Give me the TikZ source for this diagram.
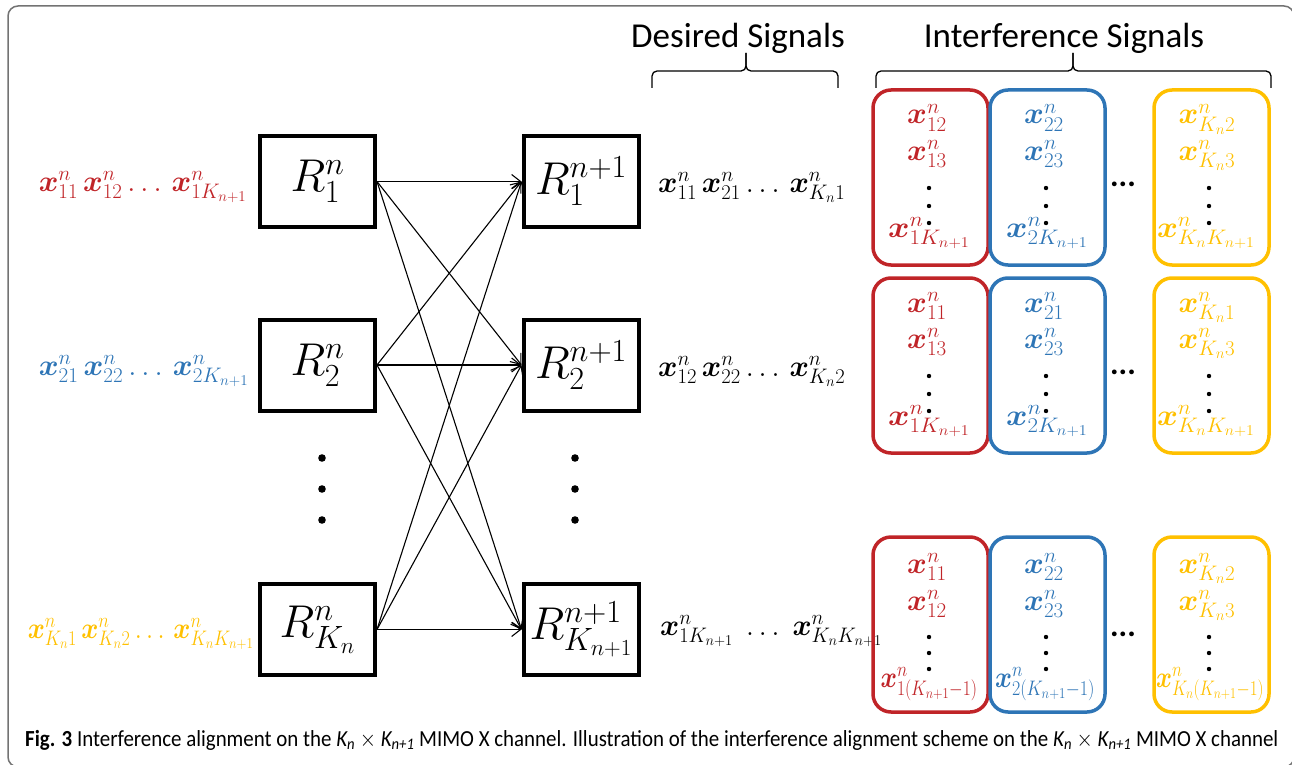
\RequirePackage{fix-cm}
\documentclass[tikz,border=0pt]{standalone}
\usepackage{amsmath,bm}
\usepackage{graphicx}
\usepackage{fontspec}
\newfontfamily\calibri{Carlito}
\usetikzlibrary{arrows.meta}
\definecolor{sigred}{RGB}{192,36,40}
\definecolor{sigblue}{RGB}{46,117,182}
\definecolor{siggold}{RGB}{255,192,0}
\definecolor{framegray}{RGB}{115,115,115}
\DeclareMathSizes{30}{30}{21}{15}
\newcommand{\xs}[1]{\bm{x}^{n}_{#1}}
\newcommand{\fitw}[2]{\resizebox{#1}{\height}{#2}}
\newcommand{\capk}[1]{{\itshape K\textsubscript{#1}}}

\begin{document}
\begin{tikzpicture}[x=1pt,y=-1pt,
    rbox/.style={draw,line width=4pt,minimum width=115pt,minimum height=91pt,inner sep=0pt,font=\fontsize{46}{50}\selectfont},
    link/.style={line width=1.1pt,-{Straight Barb[length=9pt,width=14pt]}},
    sig/.style={inner sep=0pt,font=\fontsize{30}{34}\selectfont},
    ibox/.style={line width=3.5pt,rounded corners=18pt},
    bracket/.style={line width=1.3pt,rounded corners=5pt},
    head/.style={inner sep=0pt,font=\calibri\fontsize{35}{40}\selectfont},
    dot/.style={inner sep=0pt,font=\calibri\bfseries\fontsize{32}{34}\selectfont}]
                \useasboundingbox (0,0) rectangle (1292,765) ;
                \begin{scope}
                \clip (0,0) rectangle (1292,765) ;
                \draw [framegray, line width=1.5pt, rounded corners=10pt] (8,6) rectangle (1294,767) ;
                \end{scope}
                \node [head] (desired) at (738,38) {Desired Signals} ;
                \node [head] (interf) at (1064,38) {Interference Signals} ;
                \draw [bracket] (652,88) -- (652,71) -- (746,71) -- (746,53) ;
                \draw [bracket] (838,88) -- (838,71) -- (746,71) -- (746,53) ;
                \draw [bracket] (876,88) -- (876,71) -- (1073,71) -- (1073,53) ;
                \draw [bracket] (1271,88) -- (1271,71) -- (1073,71) -- (1073,53) ;
                \node [rbox] (l1) at (317.5,181.5) {$R^{n}_{1}$} ;
                \node [rbox] (l2) at (317.5,365) {$R^{n}_{2}$} ;
                \node [rbox] (l3) at (317.5,629.5) {$R^{n}_{K_n}$} ;
                \node [rbox] (r1) at (581,181.5) {$R^{n+1}_{1}$} ;
                \node [rbox] (r2) at (581,365) {$R^{n+1}_{2}$} ;
                \node [rbox] (r3) at (581,629.5) {$R^{n+1}_{K_{n+1}}$} ;
                \draw [link] (l1.east) -- (r1.west) ;
                \draw [link] (l1.east) -- (r2.west) ;
                \draw [link] (l1.east) -- (r3.west) ;
                \draw [link] (l2.east) -- (r1.west) ;
                \draw [link] (l2.east) -- (r2.west) ;
                \draw [link] (l2.east) -- (r3.west) ;
                \draw [link] (l3.east) -- (r1.west) ;
                \draw [link] (l3.east) -- (r2.west) ;
                \draw [link] (l3.east) -- (r3.west) ;
                \fill (322,458) circle (3.8) ;
                \fill (322,489) circle (3.8) ;
                \fill (322,520) circle (3.8) ;
                \fill (575,458) circle (3.8) ;
                \fill (575,489) circle (3.8) ;
                \fill (575,520) circle (3.8) ;
                \node [sig, sigred, anchor=base east] (t1) at (247,191) {\fitw{208pt}{$\xs{11}\,\xs{12}\ldots\,\xs{1K_{n+1}}$}} ;
                \node [sig, sigblue, anchor=base east] (t2) at (249,375) {\fitw{210pt}{$\xs{21}\,\xs{22}\ldots\,\xs{2K_{n+1}}$}} ;
                \node [sig, siggold, anchor=base east] (t3) at (254,638) {\fitw{226pt}{$\xs{K_n1}\,\xs{K_n2}\ldots\,\xs{K_nK_{n+1}}$}} ;
                \node [sig, anchor=base west] (d1) at (658,192) {\fitw{187pt}{$\xs{11}\,\xs{21}\ldots\,\xs{K_n1}$}} ;
                \node [sig, anchor=base west] (d2) at (658,376) {\fitw{187pt}{$\xs{12}\,\xs{22}\ldots\,\xs{K_n2}$}} ;
                \node [sig, anchor=base west] (d3) at (660,635) {\fitw{222pt}{$\xs{1K_{n+1}}\;\ldots\;\xs{K_nK_{n+1}}$}} ;
                \draw [ibox, sigred] (873,90) rectangle (988,265) ;
                \draw [ibox, sigblue] (990,90) rectangle (1105,265) ;
                \draw [ibox, siggold] (1154,90) rectangle (1269,265) ;
                \node [sig, sigred, anchor=base] (a1) at (927,124) {$\xs{12}$} ;
                \node [sig, sigred, anchor=base] (a2) at (927,160) {$\xs{13}$} ;
                \fill (929,188) circle (2.2) ;
                \fill (929,206) circle (2.2) ;
                \fill (929,223) circle (2.2) ;
                \node [sig, sigred, anchor=base] (a3) at (929,237) {\fitw{82pt}{$\xs{1K_{n+1}}$}} ;
                \node [sig, sigblue, anchor=base] (b1) at (1044,124) {$\xs{22}$} ;
                \node [sig, sigblue, anchor=base] (b2) at (1044,160) {$\xs{23}$} ;
                \fill (1046,188) circle (2.2) ;
                \fill (1046,206) circle (2.2) ;
                \fill (1046,223) circle (2.2) ;
                \node [sig, sigblue, anchor=base] (b3) at (1047,237) {\fitw{82pt}{$\xs{2K_{n+1}}$}} ;
                \node [dot] (e1) at (1123,184) {...} ;
                \node [sig, siggold, anchor=base] (c1) at (1207,124) {$\xs{K_n2}$} ;
                \node [sig, siggold, anchor=base] (c2) at (1207,160) {$\xs{K_n3}$} ;
                \fill (1209,188) circle (2.2) ;
                \fill (1209,206) circle (2.2) ;
                \fill (1209,223) circle (2.2) ;
                \node [sig, siggold, anchor=base] (c3) at (1206,237) {\fitw{98pt}{$\xs{K_nK_{n+1}}$}} ;
                \draw [ibox, sigred] (873,278) rectangle (988,453) ;
                \draw [ibox, sigblue] (990,278) rectangle (1105,453) ;
                \draw [ibox, siggold] (1154,278) rectangle (1269,453) ;
                \node [sig, sigred, anchor=base] (a4) at (927,312) {$\xs{11}$} ;
                \node [sig, sigred, anchor=base] (a5) at (927,348) {$\xs{13}$} ;
                \fill (929,376) circle (2.2) ;
                \fill (929,394) circle (2.2) ;
                \fill (929,411) circle (2.2) ;
                \node [sig, sigred, anchor=base] (a6) at (929,425) {\fitw{82pt}{$\xs{1K_{n+1}}$}} ;
                \node [sig, sigblue, anchor=base] (b4) at (1044,312) {$\xs{21}$} ;
                \node [sig, sigblue, anchor=base] (b5) at (1044,348) {$\xs{23}$} ;
                \fill (1046,376) circle (2.2) ;
                \fill (1046,394) circle (2.2) ;
                \fill (1046,411) circle (2.2) ;
                \node [sig, sigblue, anchor=base] (b6) at (1047,425) {\fitw{82pt}{$\xs{2K_{n+1}}$}} ;
                \node [dot] (e2) at (1123,372) {...} ;
                \node [sig, siggold, anchor=base] (c4) at (1207,312) {$\xs{K_n1}$} ;
                \node [sig, siggold, anchor=base] (c5) at (1207,348) {$\xs{K_n3}$} ;
                \fill (1209,376) circle (2.2) ;
                \fill (1209,394) circle (2.2) ;
                \fill (1209,411) circle (2.2) ;
                \node [sig, siggold, anchor=base] (c6) at (1206,425) {\fitw{98pt}{$\xs{K_nK_{n+1}}$}} ;
                \draw [ibox, sigred] (873,537) rectangle (988,712) ;
                \draw [ibox, sigblue] (990,537) rectangle (1105,712) ;
                \draw [ibox, siggold] (1154,537) rectangle (1269,712) ;
                \node [sig, sigred, anchor=base] (a7) at (927,573) {$\xs{11}$} ;
                \node [sig, sigred, anchor=base] (a8) at (927,610) {$\xs{12}$} ;
                \fill (929,637) circle (2.2) ;
                \fill (929,653) circle (2.2) ;
                \fill (929,669) circle (2.2) ;
                \node [sig, sigred, anchor=base] (a9) at (929,687) {\fitw{97pt}{$\xs{1(K_{n+1}-1)}$}} ;
                \node [sig, sigblue, anchor=base] (b7) at (1044,573) {$\xs{22}$} ;
                \node [sig, sigblue, anchor=base] (b8) at (1044,610) {$\xs{23}$} ;
                \fill (1046,637) circle (2.2) ;
                \fill (1046,653) circle (2.2) ;
                \fill (1046,669) circle (2.2) ;
                \node [sig, sigblue, anchor=base] (b9) at (1045,687) {\fitw{100pt}{$\xs{2(K_{n+1}-1)}$}} ;
                \node [dot] (e3) at (1123,634) {...} ;
                \node [sig, siggold, anchor=base] (c7) at (1207,573) {$\xs{K_n2}$} ;
                \node [sig, siggold, anchor=base] (c8) at (1207,610) {$\xs{K_n3}$} ;
                \fill (1209,637) circle (2.2) ;
                \fill (1209,653) circle (2.2) ;
                \fill (1209,669) circle (2.2) ;
                \node [sig, siggold, anchor=base] (c9) at (1210,687) {\fitw{108pt}{$\xs{K_n(K_{n+1}-1)}$}} ;
                \node [inner sep=0pt, anchor=base west] (cap) at (25,746) {\resizebox{1253pt}{\height}{\calibri\fontsize{23}{26}\selectfont\textbf{Fig. 3} Interference alignment on the \capk{n} $\times$ \capk{n+1} MIMO X channel. Illustration of the interference alignment scheme on the \capk{n} $\times$ \capk{n+1} MIMO X channel}} ;
            \end{tikzpicture}
\end{document}
